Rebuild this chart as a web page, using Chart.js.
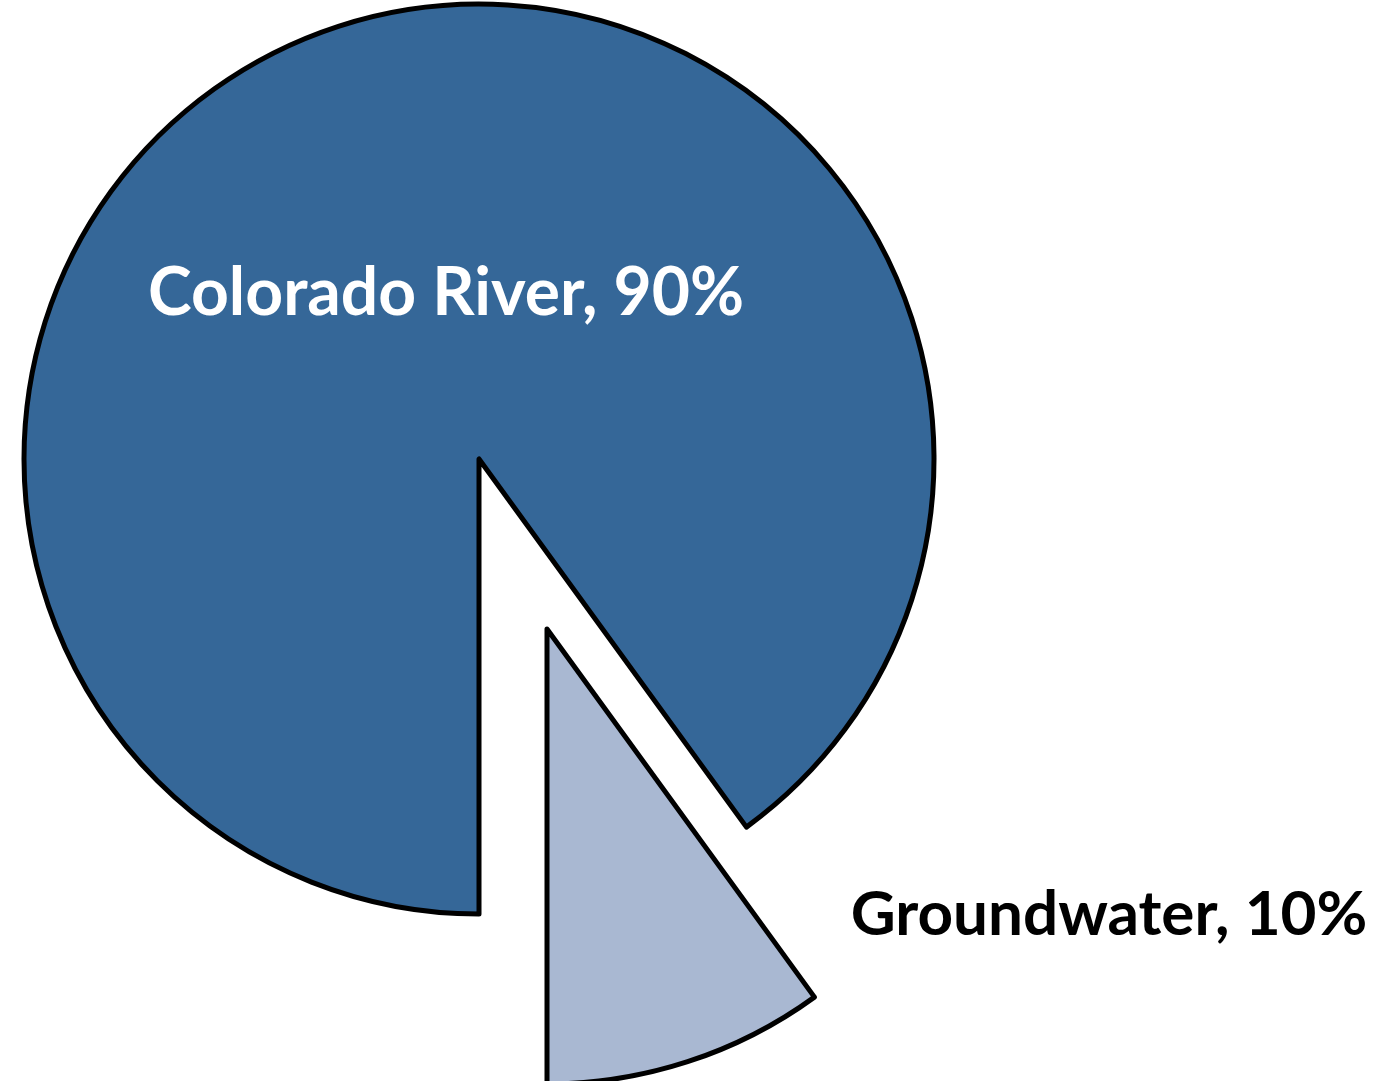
<!DOCTYPE html>
<html>
<head>
<meta charset="utf-8">
<script src="https://cdn.jsdelivr.net/npm/chart.js@4/dist/chart.umd.min.js"></script>
<style>
  html, body { margin: 0; padding: 0; background: #ffffff; }
  #wrap { position: relative; width: 1379px; height: 1081px; }
  canvas { display: block; }
</style>
</head>
<body>
<div id="wrap"><canvas id="c" width="1379" height="1081"></canvas></div>
<script>
// ---- data ----
const categories = ['Colorado River', 'Groundwater'];
const shares = [90, 10];
const labelTexts = ['Colorado River, 90%', 'Groundwater, 10%'];

// ---- styles ----
const fillColors = ['#356798', '#A9B8D2'];
const labelColors = ['#FFFFFF', '#000000'];
const labelFonts = ['bold 66px Lato, "Open Sans", sans-serif', 'bold 62px Lato, "Open Sans", sans-serif'];
// label centre positions (text layout only)
const labelAnchors = [[446, 315], [1109, 935]];
// explosion of the groundwater slice (pixels)
const explode = { index: 1, dx: 68, dy: 170 };

const explodePlugin = {
  id: 'explodeSlice',
  afterDatasetsUpdate(chart) {
    const el = chart.getDatasetMeta(0).data[explode.index];
    if (el) { el.x += explode.dx; el.y += explode.dy; }
  }
};

const labelPlugin = {
  id: 'sliceLabels',
  afterDatasetsDraw(chart) {
    const ctx = chart.ctx;
    ctx.save();
    ctx.textAlign = 'center';
    ctx.textBaseline = 'alphabetic';
    labelTexts.forEach((t, i) => {
      ctx.font = labelFonts[i];
      ctx.fillStyle = labelColors[i];
      ctx.fillText(t, labelAnchors[i][0], labelAnchors[i][1]);
    });
    ctx.restore();
  }
};

new Chart(document.getElementById('c'), {
  type: 'pie',
  data: {
    labels: categories,
    datasets: [{
      data: shares,
      backgroundColor: fillColors,
      borderColor: '#000000',
      borderWidth: 5,
      borderJoinStyle: 'round',
      clip: false
    }]
  },
  options: {
    responsive: false,
    animation: false,
    events: [],
    rotation: 180,
    radius: 455,
    layout: { padding: { left: 0, right: 421, top: 0, bottom: 163 } },
    plugins: {
      legend: { display: false },
      tooltip: { enabled: false },
      title: { display: false }
    }
  },
  plugins: [explodePlugin, labelPlugin]
});
</script>
</body>
</html>
